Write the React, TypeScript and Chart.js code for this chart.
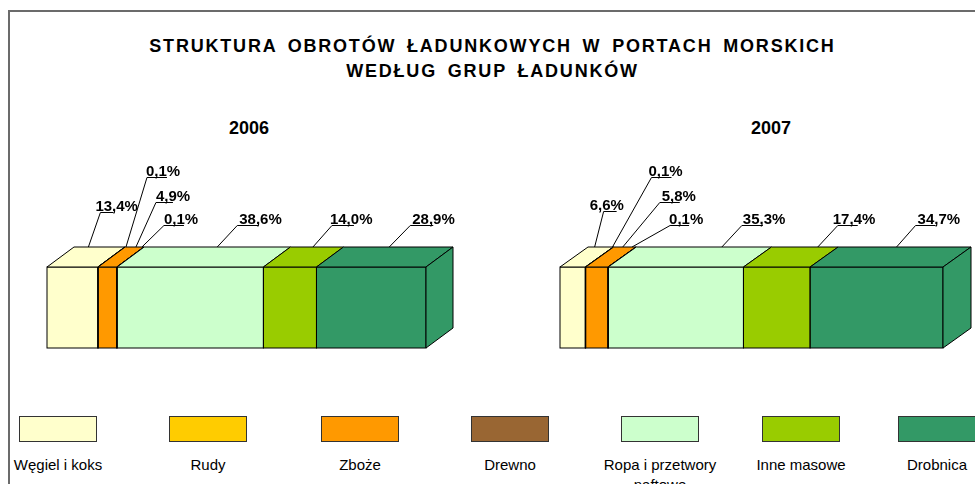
import React, { useEffect, useRef } from "react";
import { Chart, registerables } from "chart.js";

Chart.register(...registerables);

// ---- data ----
const title1 = "STRUKTURA OBROTÓW ŁADUNKOWYCH W PORTACH MORSKICH";
const title2 = "WEDŁUG GRUP ŁADUNKÓW";
const categories = [
  "Węgiel i koks",
  "Rudy",
  "Zboże",
  "Drewno",
  "Ropa i przetwory naftowe",
  "Inne masowe",
  "Drobnica",
];
const years = ["2006", "2007"];
const values2006 = [13.4, 0.1, 4.9, 0.1, 38.6, 14.0, 28.9];
const values2007 = [6.6, 0.1, 5.8, 0.1, 35.3, 17.4, 34.7];

// ---- style / layout ----
const colors = ["#FFFFCC", "#FFCC00", "#FF9900", "#996633", "#CCFFCC", "#99CC00", "#339966"];
const FONT = '"Liberation Sans", Arial, sans-serif';

type LabelPos = { tdx: number; lx: number; ly: number; tx: number; ul: number };
const labelPos2006: LabelPos[] = [
  { tdx: -11, lx: 12, ly: -55, tx: -5, ul: 13 },
  { tdx: 1, lx: 21, ly: -90, tx: -1, ul: 20 },
  { tdx: 1.5, lx: 20, ly: -65, tx: 0, ul: 17 },
  { tdx: -2, lx: 22, ly: -42, tx: 0, ul: 20 },
  { tdx: 0, lx: 20, ly: -42, tx: 2, ul: 21 },
  { tdx: -4, lx: 19, ly: -42, tx: -2, ul: 22 },
  { tdx: -9, lx: 21, ly: -42, tx: 2, ul: 23 },
];
const labelPos2007: LabelPos[] = [
  { tdx: -6, lx: 9, ly: -56, tx: -14, ul: 13 },
  { tdx: -1, lx: 39, ly: -90, tx: -3, ul: 20 },
  { tdx: -2, lx: 37, ly: -65, tx: 2, ul: 20 },
  { tdx: -4, lx: 38, ly: -42, tx: -1, ul: 19 },
  { tdx: 18, lx: 20, ly: -42, tx: 1, ul: 21 },
  { tdx: 13, lx: 20, ly: -42, tx: -5, ul: 20 },
  { tdx: -8, lx: 19, ly: -42, tx: 2, ul: 20 },
];
const legendX = [19, 169, 321, 471, 621, 762, 898];

const fmt = (v: number) => v.toFixed(1).replace(".", ",") + "%";

const depthPlugin = {
  id: "depth3d",
  afterDatasetsDraw(chart: any, _args: any, opts: any) {
    const ctx = chart.ctx as CanvasRenderingContext2D;
    const dx = opts.dx;
    const dy = opts.dy;
    const metas = chart.getSortedVisibleDatasetMetas();
    const segs = metas.map((m: any) => {
      const el = m.data[0];
      const p = el.getProps(["x", "base", "y", "height"], true);
      const ds = chart.data.datasets[m.index];
      return {
        x0: Math.min(p.base, p.x),
        x1: Math.max(p.base, p.x),
        top: p.y - p.height / 2,
        bottom: p.y + p.height / 2,
        color: ds.backgroundColor,
        value: ds.data[0],
        index: m.index,
      };
    });
    ctx.save();
    ctx.lineWidth = 1;
    ctx.strokeStyle = "#000";
    ctx.lineJoin = "miter";
    // front outlines
    segs.forEach((s: any) => {
      ctx.strokeRect(s.x0, s.top, s.x1 - s.x0, s.bottom - s.top);
    });
    // top faces
    segs.forEach((s: any) => {
      ctx.beginPath();
      ctx.moveTo(s.x0, s.top);
      ctx.lineTo(s.x1, s.top);
      ctx.lineTo(s.x1 + dx, s.top - dy);
      ctx.lineTo(s.x0 + dx, s.top - dy);
      ctx.closePath();
      ctx.fillStyle = s.color;
      ctx.fill();
      ctx.stroke();
    });
    // right side face
    const last = segs[segs.length - 1];
    ctx.beginPath();
    ctx.moveTo(last.x1, last.top);
    ctx.lineTo(last.x1 + dx, last.top - dy);
    ctx.lineTo(last.x1 + dx, last.bottom - dy);
    ctx.lineTo(last.x1, last.bottom);
    ctx.closePath();
    ctx.fillStyle = last.color;
    ctx.fill();
    ctx.stroke();
    // labels with leader lines
    ctx.font = `bold 15px ${FONT}`;
    ctx.fillStyle = "#000";
    ctx.textBaseline = "alphabetic";
    ctx.textAlign = "left";
    segs.forEach((s: any, i: number) => {
      const L = opts.labels[i];
      const tx = (s.x0 + s.x1) / 2 + dx + L.tdx;
      const ty = s.top - dy;
      const ux = tx + L.lx;
      const uy = Math.round(s.top + L.ly) + 0.5;
      ctx.beginPath();
      ctx.moveTo(tx, ty);
      ctx.lineTo(ux, uy);
      ctx.lineTo(ux + L.ul, uy);
      ctx.stroke();
      ctx.fillText(fmt(s.value), ux + L.tx, uy - 2);
    });
    ctx.restore();
  },
};

type BarProps = {
  year: string;
  values: number[];
  labels: LabelPos[];
  left: number;
  width: number;
  padLeft: number;
  padRight: number;
  dx: number;
};

function Bar3D({ year, values, labels, left, width, padLeft, padRight, dx }: BarProps) {
  const ref = useRef<HTMLCanvasElement | null>(null);
  useEffect(() => {
    if (!ref.current) return;
    const chart = new Chart(ref.current, {
      type: "bar",
      data: {
        labels: [year],
        datasets: categories.map((c, i) => ({
          label: c,
          data: [values[i]],
          backgroundColor: colors[i],
          borderWidth: 0,
          categoryPercentage: 1,
          barPercentage: 1,
        })),
      },
      options: {
        indexAxis: "y",
        responsive: false,
        animation: false,
        events: [],
        layout: { padding: { left: padLeft, right: padRight, top: 117, bottom: 22 } },
        scales: {
          x: { stacked: true, min: 0, max: 100, display: false },
          y: { stacked: true, display: false },
        },
        plugins: {
          legend: { display: false },
          tooltip: { enabled: false },
          title: { display: false },
          // @ts-ignore
          depth3d: { dx, dy: 20, labels },
        },
      } as any,
      plugins: [depthPlugin as any],
    });
    return () => chart.destroy();
  }, []);
  return (
    <canvas
      ref={ref}
      width={width}
      height={220}
      style={{ position: "absolute", left, top: 150, width, height: 220, display: "block" }}
    />
  );
}

export default function App() {
  return (
    <div
      style={{
        position: "fixed",
        left: 0,
        top: 0,
        width: 975,
        height: 484,
        background: "#fff",
        overflow: "hidden",
        fontFamily: FONT,
        color: "#000",
      }}
    >
      <div
        style={{
          position: "absolute",
          left: 8,
          top: 10,
          width: 1000,
          height: 500,
          borderLeft: "2px solid #6b6b6b",
          borderTop: "2px solid #6b6b6b",
        }}
      />
      <div
        style={{
          position: "absolute",
          left: 0,
          width: 985,
          top: 34,
          textAlign: "center",
          fontWeight: "bold",
          fontSize: 18,
          lineHeight: "25px",
          letterSpacing: "1.8px",
          wordSpacing: "4px",
          whiteSpace: "nowrap",
        }}
      >
        <div>{title1}</div>
        <div>{title2}</div>
      </div>
      <div
        style={{
          position: "absolute",
          left: 149,
          width: 200,
          top: 117,
          textAlign: "center",
          fontWeight: "bold",
          fontSize: 18,
          lineHeight: "22px",
        }}
      >
        {years[0]}
      </div>
      <div
        style={{
          position: "absolute",
          left: 671,
          width: 200,
          top: 117,
          textAlign: "center",
          fontWeight: "bold",
          fontSize: 18,
          lineHeight: "22px",
        }}
      >
        {years[1]}
      </div>
      <Bar3D year={years[0]} values={values2006} labels={labelPos2006} left={0} width={480} padLeft={47} padRight={54} dx={27} />
      <Bar3D year={years[1]} values={values2007} labels={labelPos2007} left={480} width={495} padLeft={80} padRight={32} dx={28} />
      {categories.map((c, i) => (
        <React.Fragment key={c}>
          <div
            style={{
              position: "absolute",
              left: legendX[i],
              top: 416,
              width: 78,
              height: 26,
              boxSizing: "border-box",
              background: colors[i],
              border: "1px solid #333",
            }}
          />
          <div
            style={{
              position: "absolute",
              left: legendX[i] + 39 - 70,
              width: 140,
              top: 455,
              textAlign: "center",
              fontSize: 15,
              lineHeight: "20px",
            }}
          >
            {c}
          </div>
        </React.Fragment>
      ))}
    </div>
  );
}
